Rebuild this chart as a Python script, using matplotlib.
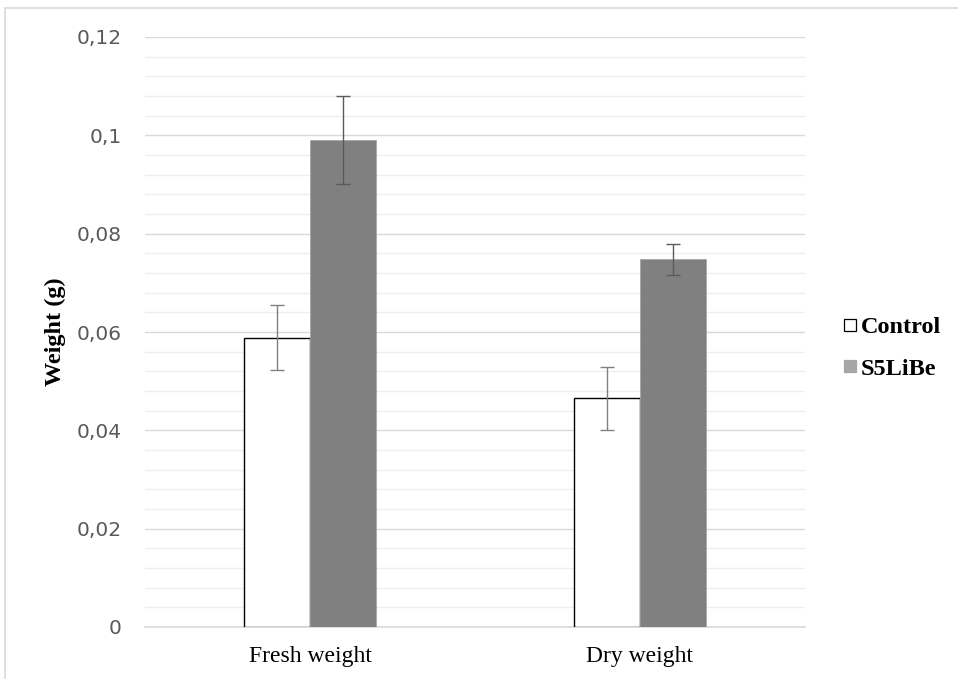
import numpy as np
import matplotlib.pyplot as plt
from matplotlib.patches import Rectangle
from matplotlib.lines import Line2D
from matplotlib.ticker import MultipleLocator, FuncFormatter

categories = ['Fresh weight', 'Dry weight']
control = [0.0588, 0.0465]
control_err = [0.0066, 0.0064]
s5libe = [0.0990, 0.0748]
s5libe_err = [0.0089, 0.0032]
series_names = ['Control', 'S5LiBe']
y_ticks = [0, 0.02, 0.04, 0.06, 0.08, 0.1, 0.12]

serif = ['Liberation Serif', 'DejaVu Serif']


def fmt(v, pos):
    if abs(v) < 1e-9:
        return '0'
    return ('%g' % round(v, 3)).replace('.', ',')


def main():
    fig = plt.figure(figsize=(9.58, 6.79), dpi=100)
    ax = fig.add_axes([145 / 958, 1 - 627 / 679, 660 / 958, 590 / 679])

    # outer chart border
    fig.patches.append(Rectangle((4.5 / 958, -0.05), 1.1, 1 - 7.5 / 679 + 0.05,
                                 transform=fig.transFigure, fill=False,
                                 edgecolor='#d9d9d9', linewidth=1.2))

    x = np.arange(len(categories))
    w = 0.2
    ax.bar(x - w / 2, control, w, color='white', edgecolor='black',
           linewidth=1.0, zorder=3)
    ax.bar(x + w / 2, s5libe, w, color='#808080', edgecolor='#a6a6a6',
           linewidth=0.6, zorder=3)
    ax.errorbar(x - w / 2, control, yerr=control_err, fmt='none',
                ecolor='#808080', elinewidth=1.0, capsize=4.8, capthick=1.0,
                zorder=4)
    ax.errorbar(x + w / 2, s5libe, yerr=s5libe_err, fmt='none',
                ecolor='#5a5a5a', elinewidth=1.0, capsize=4.8, capthick=1.0,
                zorder=4)

    ax.set_xlim(-0.5, 1.5)
    ax.set_ylim(0, 0.12)
    ax.set_yticks(y_ticks)
    ax.yaxis.set_minor_locator(MultipleLocator(0.004))
    ax.yaxis.set_major_formatter(FuncFormatter(fmt))
    ax.grid(axis='y', which='major', color='#d9d9d9', linewidth=1.0, zorder=0)
    ax.grid(axis='y', which='minor', color='#eeeeee', linewidth=1.0, zorder=0)
    ax.set_axisbelow(True)

    for s in ['top', 'right', 'left']:
        ax.spines[s].set_visible(False)
    ax.spines['bottom'].set_color('#d9d9d9')
    ax.spines['bottom'].set_linewidth(1.2)

    ax.tick_params(axis='y', which='both', length=0, pad=17,
                   labelsize=14.5, labelcolor='#595959')
    ax.tick_params(axis='x', length=0, pad=14)
    ax.set_xticks(x)
    ax.set_xticklabels(categories, fontsize=17, family=serif)

    ax.set_ylabel('Weight (g)', fontsize=17.5, fontweight='bold', family=serif)
    ax.yaxis.label.set_va('center')
    ax.yaxis.set_label_coords(-90 / 660, 0.5, transform=ax.transAxes)

    handles = [Line2D([], [], linestyle='none', marker='s', markersize=8.5,
                      markerfacecolor='white', markeredgecolor='black',
                      markeredgewidth=0.9),
               Line2D([], [], linestyle='none', marker='s', markersize=8.5,
                      markerfacecolor='#a6a6a6', markeredgecolor='#a6a6a6',
                      markeredgewidth=0.9)]
    fig.legend(handles, series_names, loc='center left',
               bbox_to_anchor=(845 / 958, 1 - 348 / 679), frameon=False,
               handlelength=0.45, handletextpad=0.2,
               labelspacing=0.8, borderpad=0, borderaxespad=0,
               prop={'family': serif, 'weight': 'bold', 'size': 17.5})

    fig.savefig('out.png', dpi=100)


if __name__ == '__main__':
    main()
